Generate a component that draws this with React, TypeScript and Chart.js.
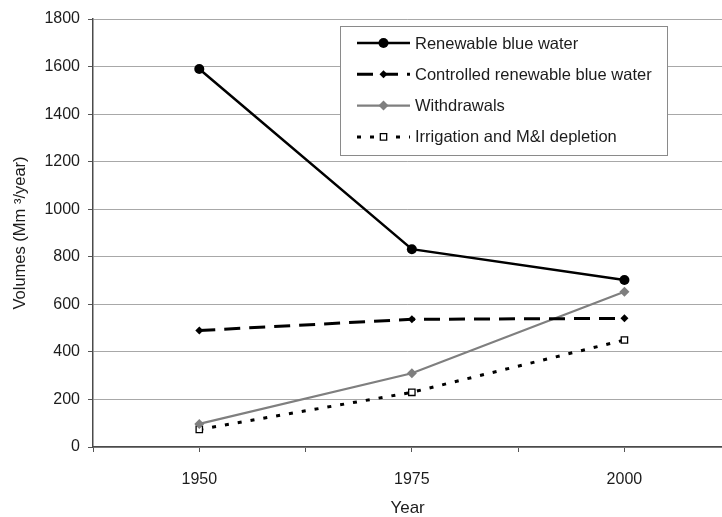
import React, { useEffect, useRef } from 'react';
import { Chart, registerables } from 'chart.js';

Chart.register(...registerables);

// ---- data ----
const years = [1950, 1975, 2000];
const renewable = [1590, 832, 702];
const controlled = [490, 537, 541];
const withdrawals = [97, 310, 653];
const irrigation = [74, 230, 450];
const seriesNames = [
  'Renewable blue water',
  'Controlled renewable blue water',
  'Withdrawals',
  'Irrigation and M&I depletion',
];
const yMin = 0;
const yMax = 1800;
const yStep = 200;
const xLabelYears = [1950, 1975, 2000];
const xTitle = 'Year';
const yTitle = 'Volumes (Mm \u00B3/year)';

const FONT = "'Liberation Sans', Arial, Helvetica, sans-serif";
const TEXT = '#1c1c1c';

function drawMarker(ctx: CanvasRenderingContext2D, style: string, x: number, y: number, r: number, fill: string, stroke: string, bw: number) {
  ctx.save();
  ctx.setLineDash([]);
  ctx.beginPath();
  if (style === 'circle') {
    ctx.arc(x, y, r, 0, Math.PI * 2);
  } else if (style === 'rectRot') {
    ctx.moveTo(x - r, y);
    ctx.lineTo(x, y - r);
    ctx.lineTo(x + r, y);
    ctx.lineTo(x, y + r);
    ctx.closePath();
  } else {
    const s = Math.SQRT1_2 * r;
    ctx.rect(x - s, y - s, 2 * s, 2 * s);
  }
  ctx.fillStyle = fill;
  ctx.fill();
  if (bw > 0) {
    ctx.lineWidth = bw;
    ctx.strokeStyle = stroke;
    ctx.stroke();
  }
  ctx.restore();
}

const boxLegend = {
  id: 'boxLegend',
  afterDatasetsDraw(chart: any) {
    const { ctx, chartArea } = chart;
    const bx = chartArea.left + 247;
    const by = chartArea.top + 7;
    const bw = 327;
    const bh = 129;
    ctx.save();
    ctx.fillStyle = '#ffffff';
    ctx.fillRect(bx, by, bw, bh);
    ctx.strokeStyle = '#8a8a8a';
    ctx.lineWidth = 1;
    ctx.strokeRect(bx + 0.5, by + 0.5, bw, bh);
    chart.data.datasets.forEach((ds: any, i: number) => {
      const y = by + 17 + i * 31.3;
      const x0 = bx + 17;
      const x1 = bx + 70;
      ctx.save();
      ctx.setLineDash(ds.borderDash || []);
      ctx.strokeStyle = ds.borderColor;
      ctx.lineWidth = ds.borderWidth;
      ctx.beginPath();
      ctx.moveTo(x0, y);
      ctx.lineTo(x1, y);
      ctx.stroke();
      ctx.restore();
      drawMarker(ctx, ds.pointStyle, (x0 + x1) / 2, y, ds.pointRadius, ds.pointBackgroundColor, ds.pointBorderColor, ds.pointBorderWidth);
      ctx.fillStyle = TEXT;
      ctx.font = `16.5px ${FONT}`;
      ctx.textBaseline = 'middle';
      ctx.textAlign = 'left';
      ctx.fillText(ds.label, bx + 75, y + 1);
    });
    ctx.restore();
  },
};

function toPoints(vals: number[]) {
  return years.map((x, i) => ({ x, y: vals[i] }));
}

export default function App() {
  const ref = useRef<HTMLCanvasElement | null>(null);

  useEffect(() => {
    document.body.style.margin = '0';
    document.body.style.overflow = 'hidden';
    document.documentElement.style.overflow = 'hidden';
    const canvas = ref.current;
    if (!canvas) return;
    const half = (years[1] - years[0]) / 2;
    const xMin = years[0] - half;
    const xMax = 2011.5;

    const chart = new Chart(canvas, {
      type: 'line',
      data: {
        datasets: [
          {
            label: seriesNames[0],
            data: toPoints(renewable),
            borderColor: '#000000',
            borderWidth: 2.5,
            pointStyle: 'circle',
            pointRadius: 5,
            pointBackgroundColor: '#000000',
            pointBorderColor: '#000000',
            pointBorderWidth: 0,
          },
          {
            label: seriesNames[1],
            data: toPoints(controlled),
            borderColor: '#000000',
            borderWidth: 3,
            borderDash: [16, 9],
            pointStyle: 'rectRot',
            pointRadius: 4,
            pointBackgroundColor: '#000000',
            pointBorderColor: '#000000',
            pointBorderWidth: 0,
          },
          {
            label: seriesNames[2],
            data: toPoints(withdrawals),
            borderColor: '#7f7f7f',
            borderWidth: 2.2,
            pointStyle: 'rectRot',
            pointRadius: 5,
            pointBackgroundColor: '#7f7f7f',
            pointBorderColor: '#7f7f7f',
            pointBorderWidth: 0,
          },
          {
            label: seriesNames[3],
            data: toPoints(irrigation),
            borderColor: '#000000',
            borderWidth: 3,
            borderDash: [4, 9],
            pointStyle: 'rect',
            pointRadius: 4.5,
            pointBackgroundColor: '#ffffff',
            pointBorderColor: '#000000',
            pointBorderWidth: 1.3,
          },
        ] as any,
      },
      options: {
        animation: false,
        responsive: false,
        devicePixelRatio: 1,
        layout: { padding: { top: 19, left: 0, right: 0, bottom: 0 } },
        plugins: {
          legend: { display: false },
          tooltip: { enabled: false },
        },
        font: { family: FONT } as any,
        scales: {
          x: {
            type: 'linear',
            min: xMin,
            max: xMax,
            afterBuildTicks: (scale: any) => {
              const t: any[] = [];
              for (let v = xMin; v <= years[years.length - 1] + 1e-6; v += half) t.push({ value: v });
              scale.ticks = t;
            },
            afterFit: (scale: any) => {
              scale.height = 70;
            },
            grid: {
              drawOnChartArea: false,
              drawTicks: true,
              tickLength: 5,
              tickColor: '#555555',
              tickWidth: 1,
            },
            border: { color: '#4a4a4a', width: 1.5 },
            ticks: {
              autoSkip: false,
              maxRotation: 0,
              padding: 18,
              color: TEXT,
              font: { family: FONT, size: 16 },
              callback: (v: any) => (xLabelYears.includes(Number(v)) ? String(v) : ''),
            },
            title: {
              display: true,
              text: xTitle,
              color: TEXT,
              font: { family: FONT, size: 17, lineHeight: 1 },
              padding: { top: 0, bottom: 0 },
            },
          },
          y: {
            type: 'linear',
            min: yMin,
            max: yMax,
            afterFit: (scale: any) => {
              scale.width = 93;
            },
            grid: {
              color: '#a8a8a8',
              lineWidth: 1,
              drawTicks: true,
              tickLength: 5,
              tickColor: '#555555',
            },
            border: { color: '#4a4a4a', width: 1.5 },
            ticks: {
              stepSize: yStep,
              padding: 8,
              color: TEXT,
              font: { family: FONT, size: 16 },
              callback: (v: any) => String(v),
            },
            title: {
              display: true,
              text: yTitle,
              color: TEXT,
              font: { family: FONT, size: 16.5, lineHeight: 1 },
              padding: { top: 12, bottom: 0 },
            },
          },
        },
      } as any,
      plugins: [boxLegend],
    });
    return () => chart.destroy();
  }, []);

  return (
    <div style={{ width: 722, height: 517, overflow: 'hidden' }}>
      <canvas ref={ref} width={728} height={517} style={{ display: 'block' }} />
    </div>
  );
}
